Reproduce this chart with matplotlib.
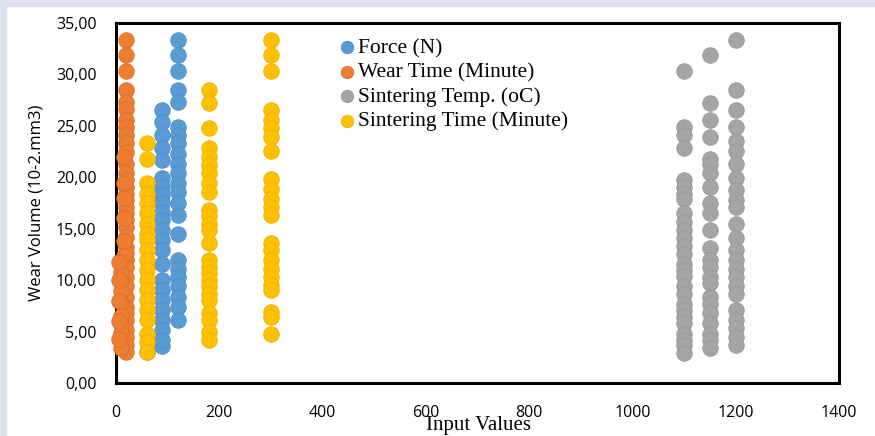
import matplotlib
matplotlib.use("Agg")
import matplotlib.pyplot as plt
from matplotlib.patches import Rectangle
from matplotlib.ticker import FuncFormatter

# ---- data ----
force_x = [60, 90] + [90]*22 + [120]*23
force_y = [3.0, 3.6,
           26.5, 25.4, 24.1, 22.8, 21.7, 19.9, 19.1, 18.3, 17.5, 16.6, 15.8, 14.9, 13.9, 12.9, 11.6, 10.0, 9.0, 8.1, 7.1, 6.1, 5.2, 4.2,
           33.3, 31.9, 30.3, 28.5, 27.3, 24.9, 24.1, 23.3, 22.3, 21.3, 20.4, 19.4, 18.6, 17.5, 16.3, 14.5, 12.0, 11.1, 10.3, 9.4, 8.4, 7.4, 6.1]

wear_y = [33.3, 31.9, 30.3, 28.5, 27.3, 26.6, 25.6, 24.9, 24.1, 23.3, 22.5, 21.3, 20.4, 19.7, 19.1, 18.4, 17.8, 17.1,
          16.5, 15.8, 15.2, 14.2, 13.2, 12.6, 12.0, 11.3, 10.3, 9.4, 8.4, 7.4, 6.8, 6.1, 5.2, 4.5, 3.7, 3.0,
          22.0, 19.4, 18.0, 16.0, 13.8, 12.3, 10.8, 9.9, 8.9, 7.9, 6.5, 5.7, 4.9, 4.1, 3.4, 11.8, 10.0, 8.0, 6.0, 4.3]
wear_x = [20, 20, 20, 20, 20, 20, 20, 20, 20, 20, 20, 20, 20, 20, 20, 20, 20, 20,
          20, 20, 20, 20, 20, 20, 20, 20, 20, 20, 20, 20, 20, 20, 20, 20, 20, 20,
          15, 15, 15, 15, 15, 15, 10, 10, 10, 10, 10, 10, 10, 10, 10, 5, 5, 5, 5, 5]

temp_x = [1100]*27 + [1150]*23 + [1200]*24
temp_y = [30.3, 24.9, 24.1, 22.8, 19.7, 19.1, 18.4, 17.9, 16.5, 15.7, 14.9, 14.1, 13.3, 12.5, 11.6, 11.0, 10.4, 9.4, 8.7, 7.7, 7.1, 6.4, 5.8, 4.8, 4.2, 3.7, 2.9,
          31.9, 27.2, 25.6, 23.9, 21.8, 21.3, 20.4, 19.1, 17.5, 16.5, 14.9, 13.1, 12.0, 11.3, 10.3, 9.7, 8.4, 7.7, 6.8, 5.8, 4.8, 4.2, 3.4,
          33.3, 28.5, 26.5, 24.9, 23.5, 22.6, 21.3, 19.9, 18.8, 17.8, 17.1, 15.5, 14.1, 12.9, 12.0, 11.1, 10.3, 9.4, 8.7, 7.1, 6.1, 5.3, 4.5, 3.7]

stime_x = [60]*20 + [180]*25 + [300]*23
stime_y = [23.3, 21.8, 19.4, 18.4, 17.5, 16.5, 15.5, 14.5, 13.9, 12.9, 12.0, 11.0, 10.0, 9.0, 8.1, 7.1, 6.1, 4.8, 4.0, 3.0,
           28.5, 27.2, 24.8, 22.8, 22.0, 21.2, 20.4, 19.4, 18.6, 16.8, 16.2, 15.5, 14.9, 13.6, 12.0, 11.3, 10.7, 10.0, 9.4, 8.7, 8.1, 6.8, 6.1, 5.0, 4.2,
           33.3, 31.9, 30.3, 26.5, 25.6, 24.8, 23.9, 22.6, 19.8, 18.9, 17.9, 17.1, 16.3, 13.6, 12.9, 12.0, 11.1, 10.3, 9.5, 9.0, 6.9, 6.4, 4.8]

labels = ["Force (N)", "Wear Time (Minute)", "Sintering Temp. (oC)", "Sintering Time (Minute)"]
colors = ["#5B9BD5", "#ED7D31", "#A5A5A5", "#FFC000"]
edges = ["#4F8CC4", "#DB7029", "#999999", "#EEB300"]

fig = plt.figure(figsize=(8.75, 4.36), dpi=100)
fig.patch.set_facecolor("white")
# page border strips
fig.patches.append(Rectangle((0, 0), 6/875, 1, transform=fig.transFigure, color="#DDE1F0", zorder=0))
fig.patches.append(Rectangle((0, 1-6/436), 1, 6/436, transform=fig.transFigure, color="#DDE1F0", zorder=0))

ax = fig.add_axes([116/875, 1-383/436, (839-116)/875, (383-23)/436])

series = [(force_x, force_y), (wear_x, wear_y), (temp_x, temp_y), (stime_x, stime_y)]
for (xs, ys), lab, c, e in zip(series, labels, colors, edges):
    ax.scatter(xs, ys, s=125, color=c, edgecolors=e, linewidths=0.6, label=lab, zorder=3, clip_on=False)

ax.set_xlim(0, 1400)
ax.set_ylim(0, 35)
ax.set_xticks(range(0, 1401, 200))
ax.set_yticks(range(0, 36, 5))
ax.yaxis.set_major_formatter(FuncFormatter(lambda v, p: f"{v:.2f}".replace(".", ",")))
ax.tick_params(axis="both", length=0, labelsize=11.5)
ax.tick_params(axis="x", pad=16)
ax.tick_params(axis="y", pad=14)
for lab in ax.get_xticklabels() + ax.get_yticklabels():
    lab.set_fontfamily("Open Sans")
for sp in ax.spines.values():
    sp.set_linewidth(2.2)
    sp.set_color("black")
    sp.set_zorder(2)

ax.set_ylabel("Wear Volume (10-2.mm3)", fontsize=12, fontfamily="Open Sans", labelpad=8)
fig.text(478/875, 1-425/436, "Input Values", ha="center", va="center",
         fontsize=15, fontfamily="Liberation Serif")

leg = ax.legend(loc="upper left", bbox_to_anchor=((336-116)/723, 1-15/360), frameon=False,
                prop={"family": "Liberation Serif", "size": 15.5},
                handletextpad=0.0, labelspacing=0.2, markerscale=0.8, borderpad=0.0,
                borderaxespad=0.0, handlelength=1.0)

fig.savefig("out.png", dpi=100)
